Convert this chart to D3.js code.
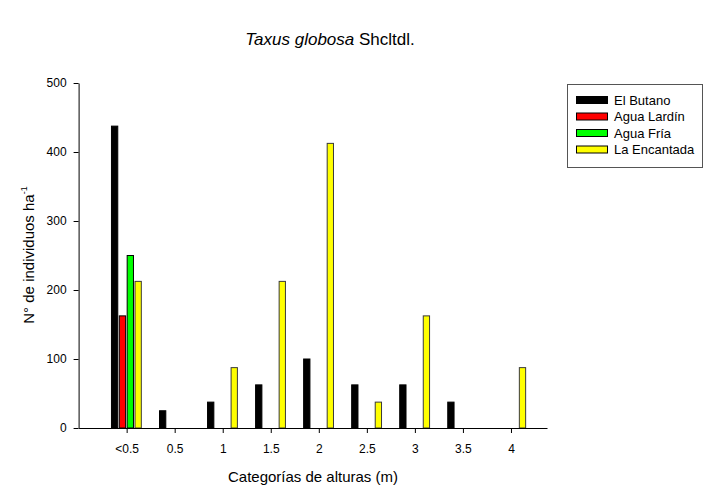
<!DOCTYPE html>
<html><head><meta charset="utf-8">
<script src="https://cdn.jsdelivr.net/npm/d3@7"></script>
<style>
body{margin:0;background:#fff}
svg{display:block;font-family:"Liberation Sans",Arial,sans-serif}
</style>
</head><body>
<svg id="chart" width="706" height="488"></svg>
<script>
// Height classes (m)
const categories = ["<0.5", "0.5", "1", "1.5", "2", "2.5", "3", "3.5", "4"];
// Sites
const seriesNames = ["El Butano", "Agua Lardín", "Agua Fría", "La Encantada"];
const seriesColors = ["#000000", "#ff0000", "#00ff00", "#ffff00"];
const seriesStrokes = ["#000000", "#000000", "#000000", "#3a3a3a"];
// Individuals per hectare in each height class
const elButano    = [437.5, 25, 37.5, 62.5, 100, 62.5, 62.5, 37.5, 0];
const aguaLardin  = [162.5, 0, 0, 0, 0, 0, 0, 0, 0];
const aguaFria    = [250, 0, 0, 0, 0, 0, 0, 0, 0];
const laEncantada = [212.5, 0, 87.5, 212.5, 412.5, 37.5, 162.5, 0, 87.5];
const yTicks = [0, 100, 200, 300, 400, 500];

const series = [elButano, aguaLardin, aguaFria, laEncantada];

const svg = d3.select("#chart");

const x = d3.scaleLinear().domain([-1, 8.75]).range([78.6, 547]);
const y = d3.scaleLinear().domain([0, 500]).range([428, 83]);

const slot = 7.85, barW = 6.3;

// Bars
series.forEach((vals, s) => {
  svg.append("g").selectAll("rect")
    .data(vals.map((v, i) => ({v, i})).filter(d => d.v > 0))
    .join("rect")
    .attr("x", d => x(d.i) + (s - 1.5) * slot - 0.25 - barW / 2)
    .attr("y", d => y(d.v))
    .attr("width", barW)
    .attr("height", d => y(0) - y(d.v))
    .attr("fill", seriesColors[s])
    .attr("stroke", seriesStrokes[s])
    .attr("stroke-width", 1);
});

// Axes
const xAxis = d3.axisBottom(x)
  .tickValues(d3.range(categories.length))
  .tickFormat(i => categories[i])
  .tickSize(5).tickSizeOuter(0).tickPadding(11);
const gx = svg.append("g").attr("transform", `translate(0,${y(0)})`).call(xAxis);

const yAxis = d3.axisLeft(y).tickValues(yTicks).tickSize(5).tickSizeOuter(0).tickPadding(7);
const gy = svg.append("g").attr("transform", `translate(${x(-1)},0)`).call(yAxis);

[gx, gy].forEach(g => {
  g.select(".domain").attr("stroke", "#000");
  g.selectAll(".tick line").attr("stroke", "#000");
  g.selectAll(".tick text").attr("font-size", 12).attr("fill", "#000")
    .attr("font-family", "Liberation Sans, Arial, sans-serif");
});

// Title
const title = svg.append("text")
  .attr("x", 330).attr("y", 45)
  .attr("text-anchor", "middle")
  .attr("font-size", 17).attr("fill", "#000");
title.append("tspan").attr("font-style", "italic").text("Taxus globosa");
title.append("tspan").text(" Shcltdl.");

// Axis titles
svg.append("text")
  .attr("x", 313).attr("y", 482)
  .attr("text-anchor", "middle")
  .attr("font-size", 15).attr("fill", "#000")
  .text("Categorías de alturas (m)");

const yt = svg.append("text")
  .attr("transform", "translate(34,255) rotate(-90)")
  .attr("text-anchor", "middle")
  .attr("font-size", 15).attr("fill", "#000");
yt.append("tspan").text("N° de individuos ha");
yt.append("tspan").attr("font-size", 9).attr("dy", -7).text("-1");

// Legend
const lg = svg.append("g");
lg.append("rect")
  .attr("x", 567.5).attr("y", 84.5).attr("width", 135).attr("height", 83)
  .attr("fill", "#fff").attr("stroke", "#555").attr("stroke-width", 1);
seriesNames.forEach((name, s) => {
  const cy = 100 + s * 16.5;
  lg.append("rect")
    .attr("x", 576.5).attr("y", cy - 3.5).attr("width", 31).attr("height", 7)
    .attr("fill", seriesColors[s]).attr("stroke", "#000").attr("stroke-width", 1);
  lg.append("text")
    .attr("x", 614).attr("y", cy + 4.5)
    .attr("font-size", 13).attr("fill", "#000")
    .text(name);
});
</script>
</body></html>
